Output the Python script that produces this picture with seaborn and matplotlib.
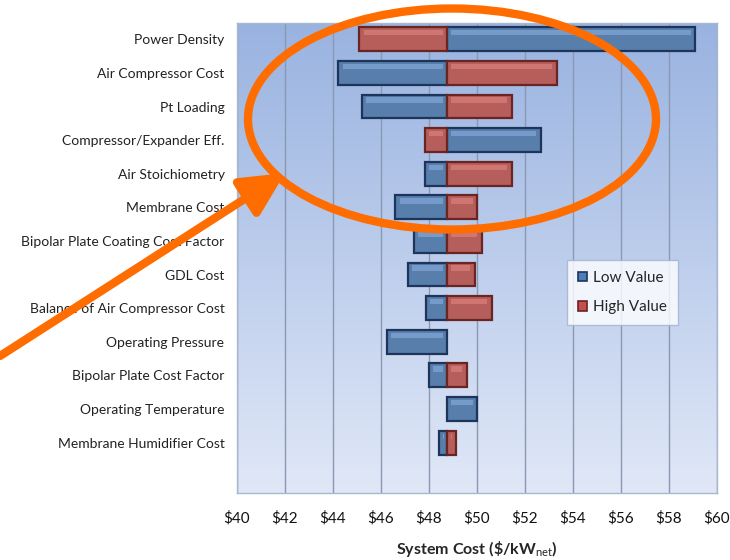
import matplotlib
matplotlib.use('Agg')
import matplotlib.pyplot as plt
from matplotlib.patches import Ellipse, FancyArrowPatch, Rectangle, Patch
import seaborn as sns
import pandas as pd
import numpy as np

# values ($/kW_net)
factors = ['Power Density', 'Air Compressor Cost', 'Pt Loading',
           'Compressor/Expander Eff.', 'Air Stoichiometry', 'Membrane Cost',
           'Bipolar Plate Coating Cost Factor', 'GDL Cost',
           'Balance of Air Compressor Cost', 'Operating Pressure',
           'Bipolar Plate Cost Factor', 'Operating Temperature',
           'Membrane Humidifier Cost']
baseline = 48.75
low_value = [59.08, 44.22, 45.20, 52.65, 47.83, 46.60, 47.38, 47.11, 47.86,
             46.24, 48.00, 50.01, 48.43]
high_value = [45.10, 53.32, 51.45, 47.83, 51.45, 50.01, 50.20, 49.90, 50.61,
              np.nan, 49.57, np.nan, 49.14]
x_ticks = [40, 42, 44, 46, 48, 50, 52, 54, 56, 58, 60]

sns.set_style('white')
plt.rcParams['font.family'] = ['Lato', 'DejaVu Sans']
plt.rcParams['mathtext.fontset'] = 'custom'
plt.rcParams['mathtext.rm'] = 'Lato'
plt.rcParams['mathtext.bf'] = 'Lato:bold'

df = pd.DataFrame({
    'factor': factors * 2,
    'case': ['Low Value'] * len(factors) + ['High Value'] * len(factors),
    'cost': low_value + high_value,
})
df['delta'] = df['cost'] - baseline
df = df.dropna()

blue, blue_edge = '#4a7dba', '#1d355a'
red, red_edge = '#c4504c', '#6a2422'

fig = plt.figure(figsize=(7.3, 5.6), dpi=100)
pos = [237 / 730, 1 - 493 / 560, 480 / 730, 470.5 / 560]

# gradient background
bg = fig.add_axes(pos, zorder=0)
grad = np.linspace(0, 1, 256).reshape(-1, 1)
top_c = np.array([0.60, 0.70, 0.88])
bot_c = np.array([0.88, 0.91, 0.97])
img = top_c + (bot_c - top_c) * grad[:, :, None]
bg.imshow(img, aspect='auto', extent=[0, 1, 0, 1])
bg.axis('off')

ax = fig.add_axes(pos, zorder=1)
ax.set_facecolor('none')
sns.barplot(data=df, x='delta', y='factor', hue='case', order=factors,
            hue_order=['Low Value', 'High Value'], dodge=False,
            palette={'Low Value': blue, 'High Value': red},
            width=0.71, orient='h', errorbar=None, ax=ax, zorder=3)

# edges and bevel highlight
for cont, edge, light in zip(ax.containers, [blue_edge, red_edge],
                             ['#8fb4e6', '#e88a86']):
    for p in cont.patches:
        p.set_edgecolor(edge)
        p.set_linewidth(1.6)
        x, y, w, h = p.get_x(), p.get_y(), p.get_width(), p.get_height()
        if abs(w) < 0.3:
            continue
        x0, x1 = min(x, x + w), max(x, x + w)
        ax.add_patch(Rectangle((x0 + 0.18, y + 0.12 * h), x1 - x0 - 0.36,
                               0.22 * h, color=light, alpha=0.55, lw=0,
                               zorder=4))

ax.set_xlim(40 - baseline, 60 - baseline)
ax.set_ylim(13.5, -0.5)
ax.set_xticks([t - baseline for t in x_ticks])
ax.set_xticklabels([f'${t}' for t in x_ticks])
ax.grid(axis='x', color='#8a99b2', lw=1, zorder=0)
ax.grid(axis='y', visible=False)
ax.set_axisbelow(True)
ax.tick_params(axis='x', length=0, pad=13, labelsize=11, colors='#111111')
ax.tick_params(axis='y', length=0, pad=9, labelsize=10, colors='#222222')
ax.set_ylabel('')
ax.set_xlabel(r'System Cost (\$/kW$_{\rm net}$)', fontsize=11.5,
              fontweight='bold', labelpad=10)
for s in ax.spines.values():
    s.set_color('#aab8cf')
    s.set_linewidth(1)

handles = [Patch(facecolor=blue, edgecolor=blue_edge, lw=1.2),
           Patch(facecolor=red, edgecolor=red_edge, lw=1.2)]
leg = ax.legend(handles, ['Low Value', 'High Value'], loc='upper left',
                bbox_to_anchor=(0.6875, 0.495), borderaxespad=0,
                fontsize=11, frameon=True, fancybox=False,
                handlelength=0.6, handleheight=0.6, handletextpad=0.4,
                labelspacing=1.0, borderpad=0.7, edgecolor='#9fb3d3')
leg.get_frame().set_linewidth(1)

# orange annotation overlays
orange = '#ff6c00'
fig.add_artist(Ellipse((452 / 730, 1 - 119 / 560), 408 / 730, 221 / 560,
                       transform=fig.transFigure, fill=False,
                       edgecolor=orange, lw=6, zorder=10))
fig.add_artist(FancyArrowPatch((0 / 730, 1 - 356 / 560),
                               (285 / 730, 1 - 173 / 560),
                               transform=fig.transFigure,
                               arrowstyle='-|>,head_length=26,head_width=13',
                               color=orange, lw=6, shrinkA=0, shrinkB=0,
                               mutation_scale=1, zorder=10))

fig.savefig('out.png', dpi=100)
